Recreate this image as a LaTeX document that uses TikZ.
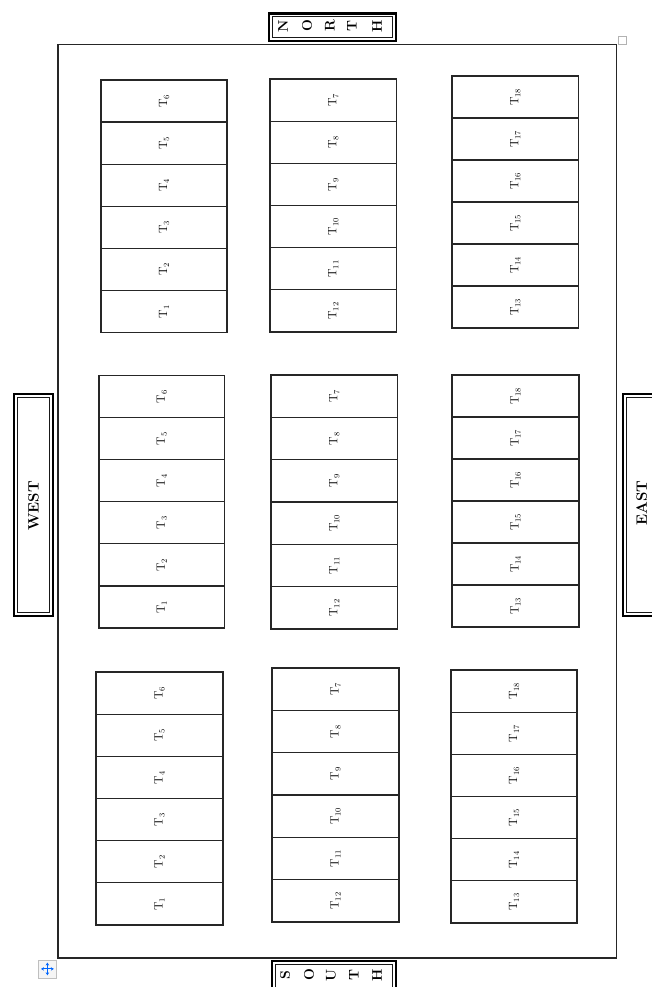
\documentclass[tikz,border=0pt]{standalone}
\usepackage{graphicx}
\usetikzlibrary{arrows.meta}
\tikzset{
  frame/.style={draw=black!85, line width=1.4pt, inner sep=0pt, outer sep=0pt, anchor=north west},
  cell/.style={draw=black!85, line width=1.2pt, inner sep=0pt, outer sep=0pt, anchor=north west, font=\fontsize{11.5}{13}\selectfont},
  dirbox/.style={draw=black, line width=2.2pt, inner sep=0pt, outer sep=0pt},
  dirinner/.style={draw=black!90, line width=0.9pt},
  dirletter/.style={rotate=90, font=\fontsize{14}{16}\selectfont\bfseries, inner sep=0pt},
  dirword/.style={inner sep=0pt, font=\fontsize{15}{18}\selectfont\bfseries},
}
\newcommand\tblock[7]{%
  \pgfmathsetmacro\tbw{#4-#2}%
  \pgfmathsetmacro\tbh{(#5-#3)/6}%
  \foreach \i in {0,...,5}{%
    \pgfmathtruncatemacro\tbn{#6+#7*\i}%
    \pgfmathsetmacro\tby{#3+\tbh*\i}%
    \node[cell, minimum width=\tbw pt, minimum height=\tbh pt] (#1-\i) at (#2,\tby) {\rotatebox{90}{$\mathrm{T}_{\tbn}$}};
  }%
}
\begin{document}
\begin{tikzpicture}[x=1pt,y=-1pt]
\useasboundingbox (0,0) rectangle (651,987);
\fill[white] (0,0) rectangle (651,987);
% outer field
\node[frame, minimum width=558.5pt, minimum height=913.5pt] (field) at (58,44.5) {};
% handle
\node[draw=gray!60, line width=0.8pt, minimum width=8pt, minimum height=8pt, inner sep=0pt, anchor=south west] (handle) at (617.5,45) {};
% move icon
\node[draw=gray!50, fill=gray!8, line width=0.8pt, minimum width=18pt, minimum height=18pt, inner sep=0pt, anchor=north west] (move) at (38,959.5) {};
\draw[blue!60!cyan, line width=1pt, {Stealth[length=3pt,width=3.5pt]}-{Stealth[length=3pt,width=3.5pt]}] ([xshift=3pt]move.west) -- ([xshift=-3pt]move.east);
\draw[blue!60!cyan, line width=1pt, {Stealth[length=3pt,width=3.5pt]}-{Stealth[length=3pt,width=3.5pt]}] ([yshift=-3pt]move.north) -- ([yshift=3pt]move.south);
% blocks
\tblock{a}{101}{80}{227}{332.5}{6}{-1}
\tblock{b}{270}{79}{396.5}{332}{7}{1}
\tblock{c}{452}{76}{578.5}{328}{18}{-1}
\tblock{d}{99}{375.5}{224.5}{628}{6}{-1}
\tblock{e}{271}{375}{397.5}{629}{7}{1}
\tblock{f}{452}{375}{579}{627}{18}{-1}
\tblock{g}{96}{672}{223}{925}{6}{-1}
\tblock{h}{272}{668}{399}{922}{7}{1}
\tblock{k}{451}{670}{577}{923}{18}{-1}
% NORTH
\node[dirbox, minimum width=127pt, minimum height=27.5pt] (north) at (332.5,27.2) {};
\draw[dirinner] ([shift={(3.5,3.5)}]north.north west) rectangle ([shift={(-3.5,-3.5)}]north.south east);
\foreach \l/\x [count=\k] in {N/283,O/307,R/330,T/352,H/377}
  \node[dirletter] (nl\k) at (\x,26) {\l};
% SOUTH
\node[dirbox, minimum width=124pt, minimum height=40pt, anchor=north] (south) at (334,961) {};
\draw[dirinner] ([shift={(3.5,3.5)}]south.north west) rectangle ([shift={(-3.5,-3.5)}]south.south east);
\foreach \l/\x [count=\k] in {S/285,O/309,U/331,T/354,H/377}
  \node[dirletter] (sl\k) at (\x,975) {\l};
% WEST
\node[dirbox, minimum width=39pt, minimum height=222pt] (west) at (33.4,505) {};
\draw[dirinner] ([shift={(3.5,3.5)}]west.north west) rectangle ([shift={(-3.5,-3.5)}]west.south east);
\node[dirword] (westtext) at (33.4,506) {\rotatebox{90}{WEST}};
% EAST
\node[dirbox, minimum width=60pt, minimum height=222pt, anchor=north west] (east) at (622.8,393.8) {};
\draw[dirinner] ([shift={(3.5,3.5)}]east.north west) rectangle ([shift={(-3.5,-3.5)}]east.south east);
\node[dirword] (easttext) at (641.7,503) {\rotatebox{90}{EAST}};
\end{tikzpicture}
\end{document}
